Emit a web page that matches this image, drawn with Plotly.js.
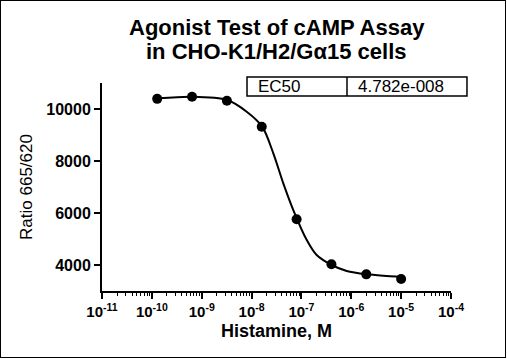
<!DOCTYPE html>
<html>
<head>
<meta charset="utf-8">
<script src="https://cdn.plot.ly/plotly-3.0.1.min.js"></script>
<style>
html,body{margin:0;padding:0;background:#fff;}
#wrap{position:relative;width:507px;height:359px;}
#chart{width:507px;height:359px;}
#frame{position:absolute;left:0;top:0;width:506px;height:358px;box-sizing:border-box;border:1.5px solid #000;pointer-events:none;}
</style>
</head>
<body>
<div id="wrap"><div id="chart"></div><div id="frame"></div></div>
<script>
// Measured data (Histamine concentration, M) and response (Ratio 665/620)
const concentration = [1.28e-10, 6.4e-10, 3.2e-9, 1.6e-8, 8e-8, 4e-7, 2e-6, 1e-5];
const ratio = [10390, 10470, 10320, 9320, 5760, 4030, 3640, 3460];

// Fitted curve
const fitX = [1.35e-10, 6.3e-10, 3.26e-9, 7.98e-9, 1.64e-8, 2.73e-8, 4.33e-8, 6.87e-8, 1.28e-7, 2.02e-7, 4.05e-7, 8.1e-7, 2.04e-6, 4.39e-6, 1.03e-5];
const fitY = [10410, 10470, 10346, 9897, 9320, 8296, 7142, 6115, 4962, 4385, 4000, 3769, 3642, 3589, 3550];

const xTickVals = [1e-11, 1e-10, 1e-9, 1e-8, 1e-7, 1e-6, 1e-5, 1e-4];
const xTickText = ['10<sup>-11</sup>','10<sup>-10</sup>','10<sup>-9</sup>','10<sup>-8</sup>','10<sup>-7</sup>','10<sup>-6</sup>','10<sup>-5</sup>','10<sup>-4</sup>'];
const yTickVals = [4000, 6000, 8000, 10000];
const yTickText = ['4000', '6000', '8000', '10000'];
const titleLine1 = 'Agonist Test of cAMP Assay';
const titleLine2 = 'in CHO-K1/H2/Gα15 cells';
const ec50Label = 'EC50';
const ec50Value = '4.782e-008';

const FONT = 'Arial, "Liberation Sans", sans-serif';
const bold = s => '<b>' + s + '</b>';

const traces = [
  {x: fitX, y: fitY, type: 'scatter', mode: 'lines', line: {color: '#000', width: 2, shape: 'spline', smoothing: 0.8}, hoverinfo: 'skip', showlegend: false},
  {x: concentration, y: ratio, type: 'scatter', mode: 'markers', marker: {color: '#000', size: 10}, showlegend: false}
];

const layout = {
  width: 507, height: 359,
  margin: {l: 102, r: 56, t: 83, b: 68},
  paper_bgcolor: '#fff', plot_bgcolor: '#fff',
  font: {family: FONT, color: '#000'},
  xaxis: {
    type: 'log', range: [-11, -4],
    tickvals: xTickVals, ticktext: xTickText.map(bold),
    tickfont: {family: FONT, size: 15, color: '#000'},
    ticks: 'outside', ticklen: 6, tickwidth: 2, tickcolor: '#000',
    minor: {ticks: 'outside', ticklen: 3, tickwidth: 1, tickcolor: '#000', dtick: 'D1', showgrid: false},
    showline: true, linecolor: '#000', linewidth: 2,
    showgrid: false, zeroline: false,
    title: {text: bold('Histamine, M'), font: {family: FONT, size: 18, color: '#000'}, standoff: 5}
  },
  yaxis: {
    range: [3000, 11000],
    tickvals: yTickVals, ticktext: yTickText.map(bold),
    tickfont: {family: FONT, size: 16, color: '#000'},
    ticks: 'outside', ticklen: 6, tickwidth: 2, tickcolor: '#000',
    showline: true, linecolor: '#000', linewidth: 2,
    showgrid: false, zeroline: false,
    title: {text: 'Ratio 665/620', font: {family: FONT, size: 17, color: '#000'}, standoff: 9}
  },
  shapes: [
    {type: 'rect', xref: 'paper', yref: 'paper', x0: 0.4155, x1: 1.0458, y0: 0.9375, y1: 1.0288, line: {color: '#000', width: 1.5}},
    {type: 'line', xref: 'paper', yref: 'paper', x0: 0.702, x1: 0.702, y0: 0.9375, y1: 1.0288, line: {color: '#000', width: 1.5}}
  ],
  annotations: [
    {text: bold(titleLine1), xref: 'paper', yref: 'paper', x: 0.5, y: 1.265, xanchor: 'center', yanchor: 'middle', showarrow: false, font: {family: FONT, size: 22, color: '#000'}},
    {text: bold(titleLine2), xref: 'paper', yref: 'paper', x: 0.5, y: 1.151, xanchor: 'center', yanchor: 'middle', showarrow: false, font: {family: FONT, size: 22, color: '#000'}},
    {text: ec50Label, xref: 'paper', yref: 'paper', x: 0.44, y: 0.983, xanchor: 'left', yanchor: 'middle', showarrow: false, font: {family: FONT, size: 17, color: '#000'}},
    {text: ec50Value, xref: 'paper', yref: 'paper', x: 0.728, y: 0.983, xanchor: 'left', yanchor: 'middle', showarrow: false, font: {family: FONT, size: 17, color: '#000'}}
  ]
};

Plotly.newPlot('chart', traces, layout, {displayModeBar: false, staticPlot: true});
</script>
</body>
</html>
